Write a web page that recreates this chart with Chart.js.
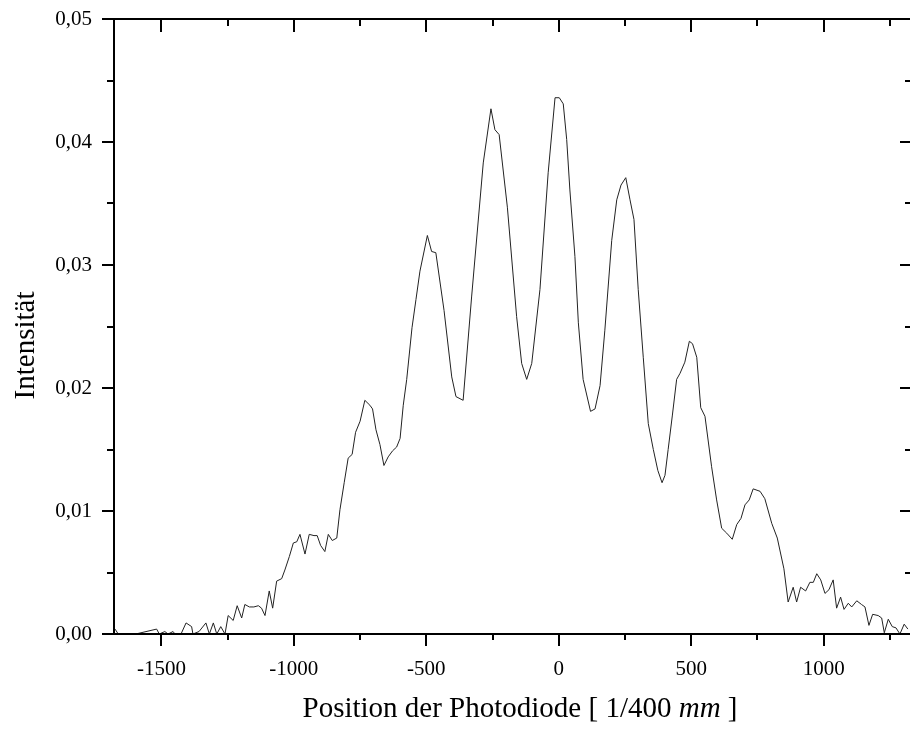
<!DOCTYPE html>
<html>
<head>
<meta charset="utf-8">
<script src="https://cdn.jsdelivr.net/npm/chart.js@4.4.1/dist/chart.umd.min.js"></script>
<style>
  html, body { margin: 0; padding: 0; background: #fff; }
  #wrap { width: 910px; height: 730px; }
</style>
</head>
<body>
<div id="wrap"><canvas id="c" width="910" height="730"></canvas></div>
<script>
// position of the photodiode [1/400 mm]
const positions = [
  -1675, -1663, -1597, -1518, -1508, -1487, -1475, -1456, -1449, -1426,
  -1407, -1386, -1381, -1358, -1332, -1319, -1304, -1291, -1276, -1260,
  -1248, -1229, -1214, -1197, -1185, -1168, -1151, -1134, -1122, -1109,
  -1093, -1080, -1065, -1046, -1034, -1017, -1002, -989, -977, -958,
  -942, -924, -912, -899, -883, -870, -855, -838, -826, -810,
  -795, -780, -767, -750, -732, -713, -703, -690, -675, -660,
  -644, -627, -612, -599, -587, -574, -554, -539, -524, -496,
  -480, -464, -433, -404, -388, -361, -329, -285, -256, -241,
  -225, -194, -159, -140, -121, -102, -71, -40, -14, 2,
  17, 30, 42, 61, 74, 92, 120, 137, 156, 174,
  200, 219, 235, 253, 269, 284, 300, 319, 338, 357,
  374, 390, 401, 413, 429, 445, 458, 476, 493, 505,
  521, 536, 552, 577, 596, 615, 634, 655, 672, 688,
  703, 719, 734, 760, 778, 804, 825, 850, 866, 885,
  898, 913, 932, 948, 961, 974, 989, 1005, 1020, 1036,
  1049, 1064, 1077, 1093, 1106, 1125, 1143, 1156, 1171, 1185,
  1206, 1219, 1229, 1244, 1259, 1273, 1288, 1304, 1318
];

const intensity = [
  0.0004, 0, 0, 0.0004, 0, 0.0002, 0, 0.0002, 0, 0,
  0.0009, 0.0006, 0, 0.0002, 0.0009, 0, 0.0009, 0, 0.0006, 0,
  0.0015, 0.0011, 0.0023, 0.0013, 0.0024, 0.0022, 0.0022, 0.0023, 0.0021, 0.0015,
  0.0035, 0.0021, 0.0043, 0.0045, 0.0052, 0.0063, 0.0074, 0.0075, 0.0081, 0.0065,
  0.0081, 0.008, 0.008, 0.0072, 0.0067, 0.0081, 0.0076, 0.0078, 0.0101, 0.0123,
  0.0143, 0.0146, 0.0164, 0.0173, 0.019, 0.0186, 0.0183, 0.0166, 0.0154, 0.0137,
  0.0144, 0.0149, 0.0152, 0.0159, 0.0186, 0.0207, 0.0249, 0.0272, 0.0295, 0.0324,
  0.0311, 0.031, 0.0263, 0.0209, 0.0193, 0.019, 0.0274, 0.0383, 0.0427, 0.041,
  0.0406, 0.0347, 0.0258, 0.022, 0.0207, 0.022, 0.028, 0.0375, 0.0436, 0.0436,
  0.0431, 0.0402, 0.0361, 0.0307, 0.0253, 0.0207, 0.0181, 0.0183, 0.0202, 0.0247,
  0.032, 0.0353, 0.0365, 0.0371, 0.0353, 0.0337, 0.028, 0.0225, 0.0171, 0.015,
  0.0133, 0.0123, 0.0129, 0.015, 0.0178, 0.0207, 0.0212, 0.0221, 0.0238, 0.0236,
  0.0225, 0.0184, 0.0177, 0.0136, 0.0109, 0.0086, 0.0082, 0.0077, 0.0089, 0.0094,
  0.0105, 0.0109, 0.0118, 0.0116, 0.011, 0.009, 0.0078, 0.0053, 0.0026, 0.0038,
  0.0026, 0.0038, 0.0035, 0.0042, 0.0042, 0.0049, 0.0044, 0.0033, 0.0036, 0.0044,
  0.0021, 0.003, 0.002, 0.0025, 0.0022, 0.0027, 0.0024, 0.0022, 0.0007, 0.0016,
  0.0015, 0.0013, 0.0001, 0.0012, 0.0006, 0.0005, 0, 0.0008, 0.0004
];

// axis ranges and tick steps
const xRange = [-1679, 1326];
const yRange = [0, 0.05];
const xStep = 250;   // every other one is labelled
const yStep = 0.005;

const xTitle = ["Position der Photodiode [ 1/400 ", "mm", " ]"];
const yTitle = "Intensität";

const FONT = '"Liberation Serif", "Times New Roman", serif';

const isMajorX = (v) => Math.round(v / xStep) % 2 === 0;
const isMajorY = (v) => Math.round(v / yStep) % 2 === 0;

// ticks on every multiple of the step inside the range
function stepTicks(scale, step) {
  const out = [];
  const first = Math.ceil(scale.min / step - 1e-9);
  for (let k = first; k * step <= scale.max + 1e-9; k++) {
    out.push({ value: Math.round(k * step * 1e6) / 1e6 });
  }
  scale.ticks = out;
}

// frame, mirrored ticks and axis titles (Origin style)
const framePlugin = {
  id: "frame",
  afterDraw(chart) {
    const { ctx, chartArea: a, scales } = chart;
    const xs = scales.x, ys = scales.y;
    ctx.save();
    ctx.strokeStyle = "#000";
    ctx.lineWidth = 2;
    ctx.lineCap = "butt";

    // right edge of the frame sits just outside the picture
    ctx.beginPath();
    ctx.moveTo(a.left, a.top); ctx.lineTo(a.right + 2, a.top);
    ctx.moveTo(a.left, a.bottom); ctx.lineTo(a.right + 2, a.bottom);
    ctx.moveTo(a.left, a.top - 1); ctx.lineTo(a.left, a.bottom + 1);
    ctx.moveTo(a.right + 2, a.top - 1); ctx.lineTo(a.right + 2, a.bottom + 1);
    ctx.stroke();

    ctx.beginPath();
    xs.ticks.forEach((t) => {
      const px = Math.round(xs.getPixelForValue(t.value));
      const len = isMajorX(t.value) ? 12 : 6;
      ctx.moveTo(px, a.bottom); ctx.lineTo(px, a.bottom + len);   // outward
      ctx.moveTo(px, a.top); ctx.lineTo(px, a.top + len + 1);     // inward
    });
    ys.ticks.forEach((t) => {
      const py = Math.round(ys.getPixelForValue(t.value));
      const len = isMajorY(t.value) ? 12 : 7;
      ctx.moveTo(a.left - len, py); ctx.lineTo(a.left, py);        // outward
      ctx.moveTo(a.right + 2 - len, py); ctx.lineTo(a.right + 2, py); // inward
    });
    ctx.stroke();

    // x title with italic unit
    ctx.fillStyle = "#000";
    ctx.textBaseline = "alphabetic";
    const fN = "29px " + FONT, fI = "italic 29px " + FONT;
    ctx.font = fN; const w0 = ctx.measureText(xTitle[0]).width;
    ctx.font = fI; const w1 = ctx.measureText(xTitle[1]).width;
    ctx.font = fN; const w2 = ctx.measureText(xTitle[2]).width;
    let tx = (a.left + a.right) / 2 + 8 - (w0 + w1 + w2) / 2;
    const ty = a.bottom + 83;
    ctx.textAlign = "left";
    ctx.font = fN; ctx.fillText(xTitle[0], tx, ty); tx += w0;
    ctx.font = fI; ctx.fillText(xTitle[1], tx, ty); tx += w1;
    ctx.font = fN; ctx.fillText(xTitle[2], tx, ty);

    // y title
    ctx.translate(34, (a.top + a.bottom) / 2 + 19);
    ctx.rotate(-Math.PI / 2);
    ctx.textAlign = "center";
    ctx.font = fN;
    ctx.fillText(yTitle, 0, 0);
    ctx.restore();
  },
};

new Chart(document.getElementById("c"), {
  type: "line",
  data: {
    datasets: [{
      data: positions.map((x, i) => ({ x, y: intensity[i] })),
      borderColor: "#222",
      borderWidth: 1,
      pointRadius: 0,
      tension: 0,
      fill: false,
    }],
  },
  options: {
    responsive: false,
    animation: false,
    parsing: false,
    layout: { padding: { top: 19, right: 0, bottom: 0, left: 0 } },
    plugins: { legend: { display: false }, tooltip: { enabled: false } },
    scales: {
      x: {
        type: "linear",
        min: xRange[0],
        max: xRange[1],
        border: { display: false },
        grid: { display: false, drawTicks: false },
        afterBuildTicks: (s) => stepTicks(s, xStep),
        ticks: {
          autoSkip: false,
          maxRotation: 0,
          padding: 23,
          color: "#000",
          font: { family: FONT, size: 21 },
          callback: (v) => (isMajorX(v) ? String(v) : ""),
        },
        afterFit: (s) => {
          s.height = 96;
          s.paddingLeft = 0;
          s.paddingRight = 0;
        },
      },
      y: {
        min: yRange[0],
        max: yRange[1],
        border: { display: false },
        grid: { display: false, drawTicks: false },
        afterBuildTicks: (s) => stepTicks(s, yStep),
        ticks: {
          autoSkip: false,
          padding: 22,
          color: "#000",
          font: { family: FONT, size: 21 },
          callback: (v) => (isMajorY(v) ? v.toFixed(2).replace(".", ",") : ""),
        },
        afterFit: (s) => {
          s.width = 114;
          s.paddingTop = 0;
          s.paddingBottom = 0;
        },
      },
    },
  },
  plugins: [framePlugin],
});
</script>
</body>
</html>
